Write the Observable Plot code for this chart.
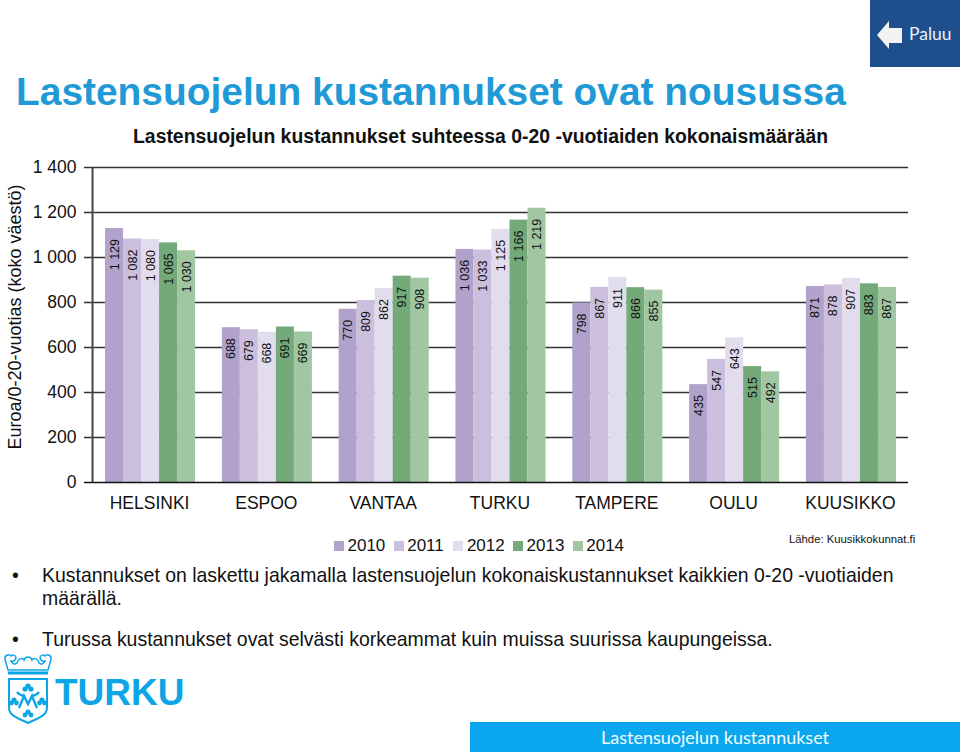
<!DOCTYPE html>
<html lang="fi">
<head>
<meta charset="utf-8">
<script src="https://cdn.jsdelivr.net/npm/d3@7"></script>
<script src="https://cdn.jsdelivr.net/npm/@observablehq/plot@0.6"></script>
<style>
html,body{margin:0;padding:0;background:#fff;width:960px;height:752px;overflow:hidden;font-family:"Liberation Sans",Arial,sans-serif;color:#111}
#stage{position:relative;width:960px;height:752px;overflow:hidden}
#chart{position:absolute;left:0;top:0}
.abs{position:absolute;white-space:nowrap}
#legend{position:absolute;left:334px;top:535px;display:flex;font-size:17px;line-height:21px}
#legend .item{display:flex;align-items:center;width:59.7px}
#legend .sw{width:10px;height:10px;margin-right:3.5px}
</style>
</head>
<body>
<div id="stage">
  <div id="chart"></div>
  <div class="abs" id="title" style="left:16px;top:68px;font-size:38.9px;font-weight:bold;color:#1f9ad6;line-height:48px">Lastensuojelun kustannukset ovat nousussa</div>
  <div class="abs" style="left:133px;top:125px;font-size:19.4px;font-weight:bold;line-height:22px">Lastensuojelun kustannukset suhteessa 0-20 -vuotiaiden kokonaismäärään</div>
  <div class="abs" style="left:15px;top:317px;font-size:18px;line-height:20px;transform:translate(-50%,-50%) rotate(-90deg)">Euroa/0-20-vuotias (koko väestö)</div>
  <div id="legend"></div>
  <div class="abs" style="left:789px;top:532px;font-size:11.3px;line-height:14px">Lähde: Kuusikkokunnat.fi</div>
  <div class="abs" style="left:12px;top:564px;font-size:19.45px;line-height:22px">•</div>
  <div class="abs" style="left:42px;top:564px;font-size:19.45px;line-height:22px">Kustannukset on laskettu jakamalla lastensuojelun kokonaiskustannukset kaikkien 0-20 -vuotiaiden</div>
  <div class="abs" style="left:42px;top:587px;font-size:19.45px;line-height:22px">määrällä.</div>
  <div class="abs" style="left:12px;top:628px;font-size:19.45px;line-height:22px">•</div>
  <div class="abs" style="left:42px;top:628px;font-size:19.45px;line-height:22px">Turussa kustannukset ovat selvästi korkeammat kuin muissa suurissa kaupungeissa.</div>

  <div class="abs" style="left:870px;top:0;width:90px;height:67px;background:#1f4e8c"></div>
  <svg class="abs" style="left:876px;top:18px" width="30" height="34"><path d="M1 17 L13 3 L13 10 L26 10 L26 25 L13 25 L13 31 Z" fill="#f2f2f2"/></svg>
  <div class="abs" style="left:909px;top:23px;font-family:Lato,sans-serif;font-size:17.5px;line-height:22px;color:#eaf0f8">Paluu</div>

  <div class="abs" style="left:470px;top:722px;width:490px;height:30px;background:#0aa6ee"></div>
  <div class="abs" style="left:601px;top:727px;font-family:Lato,sans-serif;font-size:18px;line-height:21px;color:#f4fbff">Lastensuojelun kustannukset</div>

  <svg class="abs" style="left:0;top:650px" width="60" height="80" fill="none" stroke="#0ea5e6" stroke-width="1.5">
    <path d="M8 20 L5 9 C4 6 9 3 11 6 C12 4 16 5 16 8 C15 11 13 12 11 11 C12 14 15 15 17 13 C18 9 22 7 24 10 C25 6 31 6 32 10 C34 7 38 9 39 13 C41 15 44 14 45 11 C43 12 41 11 40 8 C40 5 44 4 45 6 C47 3 52 6 51 9 L48 20 Z" fill="#fff"/>
    <path d="M8 20 L48 20 L48 23 L8 23 Z" fill="#0ea5e6" stroke="none" transform="translate(0,1.5)"/>
    <path d="M9 29 L47 29 L47 58 C47 66 36 69 28 73 C20 69 9 66 9 58 Z" stroke-width="2"/>
    <path d="M19 58 L24 46 L28 54 L32 46 L37 58 M17 42 C20 46 22 45 24 46 M39 42 C36 46 34 45 32 46" stroke-width="2.4"/>
    <g fill="#0ea5e6" stroke="none">
      <circle cx="28" cy="36" r="2.6"/><circle cx="25" cy="39" r="2.6"/><circle cx="31" cy="39" r="2.6"/>
      <circle cx="14" cy="50" r="2.6"/><circle cx="11.5" cy="53" r="2.4"/><circle cx="16.5" cy="53" r="2.4"/>
      <circle cx="42" cy="50" r="2.6"/><circle cx="39.5" cy="53" r="2.4"/><circle cx="44.5" cy="53" r="2.4"/>
      <circle cx="28" cy="62" r="2.6"/><circle cx="25" cy="65" r="2.4"/><circle cx="31" cy="65" r="2.4"/>
    </g>
  </svg>
  <div class="abs" style="left:55px;top:672px;font-size:37px;font-weight:bold;line-height:42px;color:#0ea5e6">TURKU</div>
</div>
<script>
const cities = ["HELSINKI","ESPOO","VANTAA","TURKU","TAMPERE","OULU","KUUSIKKO"];
const years = ["2010","2011","2012","2013","2014"];
const colors = ["#b0a2ca","#cbbfdd","#e1ddec","#74a97a","#a0c6a2"];
const v2010 = [1129,688,770,1036,798,435,871];
const v2011 = [1082,679,809,1033,867,547,878];
const v2012 = [1080,668,862,1125,911,643,907];
const v2013 = [1065,691,917,1166,866,515,883];
const v2014 = [1030,669,908,1219,855,492,867];
const yTicks = [0,200,400,600,800,1000,1200,1400];

const series = [v2010,v2011,v2012,v2013,v2014];
const rows = years.flatMap((year,i)=>cities.map((city,j)=>({city,year,value:series[i][j]})));
const fmt = n => n >= 1000 ? `${Math.floor(n/1000)} ${String(n%1000).padStart(3,"0")}` : String(n);
const first = cities[0];

const plot = Plot.plot({
  width:960, height:752,
  marginLeft:91, marginRight:50, marginTop:167, marginBottom:270,
  style:{fontFamily:'"Liberation Sans",Arial,sans-serif',background:"transparent",color:"#111",overflow:"visible"},
  fx:{domain:cities,paddingInner:0.229,paddingOuter:0.12,align:0.5,round:false,label:null},
  x:{domain:years,padding:0,round:false,label:null,axis:null},
  y:{domain:[0,1400],label:null,axis:null},
  color:{domain:years,range:colors},
  marks:[
    Plot.ruleY(yTicks.slice(1),{fx:()=>first,stroke:"#333",strokeWidth:1.6,insetLeft:-21,insetRight:-713}),
    Plot.barY(rows,{fx:"city",x:"year",y:"value",fill:"year"}),
    Plot.text(rows,{fx:"city",x:"year",y:"value",text:d=>fmt(d.value),rotate:-90,textAnchor:"end",dy:10.5,fontSize:12.5,fill:"#111"}),
    Plot.ruleY([0],{fx:()=>first,stroke:"#111",strokeWidth:1.6,insetLeft:-21,insetRight:-713}),
    Plot.ruleX([years[0]],{fx:()=>first,y1:0,y2:1400,dx:-22,stroke:"#444",strokeWidth:2}),
    Plot.text(yTicks,{fx:()=>first,y:d=>d,text:fmt,frameAnchor:"left",dx:-29,textAnchor:"end",fontSize:17.5,fill:"#111"}),
    Plot.axisFx({anchor:"bottom",tickSize:0,tickPadding:14,dx:-1,fontSize:17.5,label:null})
  ]
});
document.getElementById("chart").appendChild(plot);

const legend = document.getElementById("legend");
years.forEach((y,i)=>{
  const it=document.createElement("div");it.className="item";
  const sw=document.createElement("span");sw.className="sw";sw.style.background=colors[i];
  const t=document.createElement("span");t.textContent=y;
  it.append(sw,t);legend.append(it);
});
</script>
</body>
</html>
